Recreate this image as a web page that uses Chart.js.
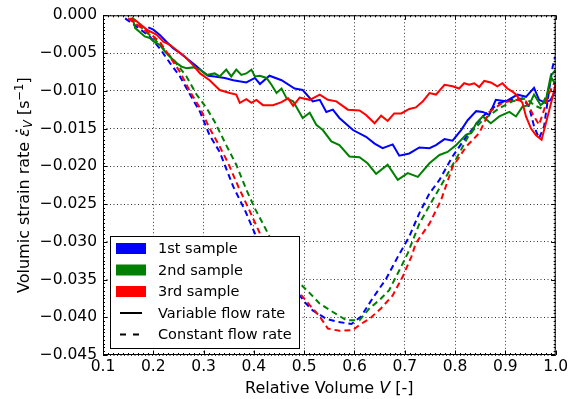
<!DOCTYPE html>
<html>
<head>
<meta charset="utf-8">
<script src="https://cdn.jsdelivr.net/npm/chart.js@4/dist/chart.umd.min.js"></script>
<style>
  html, body { margin: 0; padding: 0; background: #fff; }
  canvas { display: block; }
</style>
</head>
<body>
<canvas id="strainChart" width="571" height="399"></canvas>
<script>
// --- values: [relative volume, strain rate] ---
const blueVariable = [
  [0.190,-0.0016],[0.200,-0.0019],[0.213,-0.0026],[0.226,-0.0035],[0.240,-0.0044],
  [0.253,-0.0050],[0.266,-0.0057],[0.283,-0.0066],[0.299,-0.0075],[0.309,-0.0080],
  [0.322,-0.0081],[0.342,-0.0083],[0.359,-0.0086],[0.385,-0.0089],[0.402,-0.0083],
  [0.412,-0.0091],[0.431,-0.0080],[0.455,-0.0086],[0.481,-0.0097],[0.497,-0.0099],
  [0.517,-0.0114],[0.531,-0.0112],[0.544,-0.0128],[0.557,-0.0125],[0.570,-0.0136],
  [0.597,-0.0152],[0.623,-0.0161],[0.640,-0.0170],[0.656,-0.0176],[0.676,-0.0171],
  [0.689,-0.0186],[0.709,-0.0183],[0.729,-0.0175],[0.749,-0.0176],[0.762,-0.0172],
  [0.779,-0.0164],[0.795,-0.0166],[0.812,-0.0152],[0.825,-0.0139],[0.842,-0.0127],
  [0.855,-0.0128],[0.868,-0.0132],[0.881,-0.0112],[0.901,-0.0114],[0.924,-0.0105],
  [0.941,-0.0108],[0.957,-0.0096],[0.967,-0.0112],[0.980,-0.0116],[0.990,-0.0112],
  [1.000,-0.0099]
];
const greenVariable = [
  [0.160,-0.0006],[0.164,-0.0017],[0.173,-0.0022],[0.183,-0.0028],[0.193,-0.0030],
  [0.203,-0.0036],[0.213,-0.0039],[0.223,-0.0048],[0.233,-0.0055],[0.246,-0.0063],
  [0.256,-0.0068],[0.266,-0.0070],[0.279,-0.0069],[0.293,-0.0072],[0.306,-0.0079],
  [0.322,-0.0077],[0.332,-0.0081],[0.345,-0.0072],[0.355,-0.0081],[0.365,-0.0072],
  [0.375,-0.0079],[0.385,-0.0077],[0.395,-0.0072],[0.402,-0.0081],[0.412,-0.0080],
  [0.425,-0.0083],[0.435,-0.0092],[0.445,-0.0103],[0.455,-0.0097],[0.465,-0.0110],
  [0.478,-0.0114],[0.497,-0.0136],[0.511,-0.0129],[0.524,-0.0145],[0.537,-0.0152],
  [0.554,-0.0167],[0.570,-0.0172],[0.590,-0.0187],[0.610,-0.0188],[0.626,-0.0196],
  [0.643,-0.0210],[0.666,-0.0198],[0.686,-0.0218],[0.706,-0.0209],[0.726,-0.0214],
  [0.749,-0.0196],[0.769,-0.0185],[0.785,-0.0181],[0.802,-0.0172],[0.822,-0.0158],
  [0.832,-0.0156],[0.842,-0.0143],[0.855,-0.0134],[0.871,-0.0143],[0.888,-0.0134],
  [0.908,-0.0128],[0.921,-0.0134],[0.934,-0.0121],[0.947,-0.0119],[0.957,-0.0105],
  [0.970,-0.0119],[0.980,-0.0114],[0.990,-0.0081],[1.000,-0.0092]
];
const redVariable = [
  [0.154,-0.0004],[0.167,-0.0008],[0.187,-0.0019],[0.207,-0.0026],[0.220,-0.0035],
  [0.233,-0.0039],[0.246,-0.0046],[0.263,-0.0055],[0.279,-0.0066],[0.293,-0.0077],
  [0.312,-0.0086],[0.332,-0.0099],[0.352,-0.0103],[0.365,-0.0105],[0.372,-0.0116],
  [0.385,-0.0111],[0.395,-0.0116],[0.405,-0.0112],[0.418,-0.0119],[0.438,-0.0119],
  [0.455,-0.0115],[0.468,-0.0110],[0.478,-0.0120],[0.491,-0.0109],[0.511,-0.0112],
  [0.531,-0.0105],[0.547,-0.0112],[0.564,-0.0114],[0.587,-0.0125],[0.610,-0.0126],
  [0.623,-0.0132],[0.640,-0.0143],[0.653,-0.0133],[0.666,-0.0140],[0.679,-0.0130],
  [0.693,-0.0130],[0.709,-0.0124],[0.722,-0.0122],[0.736,-0.0114],[0.749,-0.0103],
  [0.762,-0.0105],[0.779,-0.0092],[0.795,-0.0094],[0.808,-0.0097],[0.818,-0.0090],
  [0.828,-0.0092],[0.838,-0.0090],[0.848,-0.0095],[0.858,-0.0087],[0.871,-0.0089],
  [0.884,-0.0094],[0.894,-0.0090],[0.904,-0.0097],[0.914,-0.0101],[0.921,-0.0105],
  [0.934,-0.0116],[0.941,-0.0134],[0.951,-0.0150],[0.961,-0.0159],[0.972,-0.0165],
  [0.984,-0.0134],[0.994,-0.0108],[1.000,-0.0090]
];
const blueConstant = [
  [0.144,-0.0004],[0.167,-0.0015],[0.193,-0.0028],[0.213,-0.0044],[0.233,-0.0063],
  [0.253,-0.0081],[0.273,-0.0105],[0.293,-0.0128],[0.312,-0.0159],[0.332,-0.0181],
  [0.359,-0.0227],[0.382,-0.0258],[0.402,-0.0289],[0.451,-0.0335],[0.501,-0.0380],
  [0.517,-0.0391],[0.544,-0.0402],[0.567,-0.0406],[0.594,-0.0409],[0.613,-0.0399],
  [0.636,-0.0375],[0.663,-0.0349],[0.686,-0.0320],[0.709,-0.0293],[0.729,-0.0262],
  [0.749,-0.0236],[0.769,-0.0218],[0.795,-0.0187],[0.822,-0.0161],[0.855,-0.0134],
  [0.888,-0.0116],[0.914,-0.0112],[0.934,-0.0110],[0.947,-0.0121],[0.957,-0.0147],
  [0.967,-0.0163],[0.977,-0.0147],[0.987,-0.0099],[0.994,-0.0068],[0.999,-0.0055]
];
const greenConstant = [
  [0.157,-0.0003],[0.167,-0.0008],[0.180,-0.0019],[0.200,-0.0030],[0.220,-0.0044],
  [0.240,-0.0059],[0.266,-0.0081],[0.286,-0.0105],[0.306,-0.0123],[0.322,-0.0141],
  [0.345,-0.0172],[0.365,-0.0198],[0.385,-0.0231],[0.402,-0.0256],[0.418,-0.0276],
  [0.431,-0.0293],[0.461,-0.0327],[0.491,-0.0355],[0.511,-0.0368],[0.531,-0.0382],
  [0.557,-0.0393],[0.584,-0.0404],[0.610,-0.0404],[0.630,-0.0388],[0.650,-0.0377],
  [0.669,-0.0364],[0.689,-0.0338],[0.706,-0.0315],[0.729,-0.0276],[0.755,-0.0245],
  [0.782,-0.0214],[0.808,-0.0183],[0.828,-0.0158],[0.855,-0.0139],[0.888,-0.0123],
  [0.914,-0.0114],[0.941,-0.0110],[0.957,-0.0119],[0.970,-0.0123],[0.984,-0.0103],
  [0.994,-0.0077],[1.000,-0.0072]
];
const redConstant = [
  [0.150,-0.0004],[0.173,-0.0015],[0.193,-0.0024],[0.213,-0.0035],[0.233,-0.0055],
  [0.253,-0.0075],[0.273,-0.0101],[0.293,-0.0123],[0.312,-0.0150],[0.329,-0.0170],
  [0.349,-0.0196],[0.369,-0.0227],[0.388,-0.0254],[0.412,-0.0289],[0.451,-0.0331],
  [0.491,-0.0368],[0.511,-0.0384],[0.531,-0.0399],[0.547,-0.0415],[0.570,-0.0418],
  [0.597,-0.0417],[0.610,-0.0410],[0.630,-0.0402],[0.653,-0.0388],[0.676,-0.0371],
  [0.696,-0.0346],[0.713,-0.0320],[0.722,-0.0302],[0.749,-0.0276],[0.772,-0.0245],
  [0.795,-0.0201],[0.822,-0.0174],[0.848,-0.0156],[0.868,-0.0128],[0.894,-0.0116],
  [0.921,-0.0112],[0.941,-0.0114],[0.957,-0.0134],[0.967,-0.0145],[0.977,-0.0125],
  [0.987,-0.0103],[0.997,-0.0090]
];

const xTicks = [0.1, 0.2, 0.3, 0.4, 0.5, 0.6, 0.7, 0.8, 0.9, 1.0];
const yTicks = [0.000, -0.005, -0.010, -0.015, -0.020, -0.025, -0.030, -0.035, -0.040, -0.045];
const legendSamples = ['1st sample', '2nd sample', '3rd sample'];
const legendStyles = ['Variable flow rate', 'Constant flow rate'];

const BLUE = '#0000ff', GREEN = '#008000', RED = '#ff0000';
const FONT = '"DejaVu Sans", sans-serif';
const TICK_FS = 15.5;   // tick labels
const LABEL_FS = 16;    // axis titles
const LEG_FS = 14.5;    // legend

function toPoints(pairs) {
  return pairs.map(p => ({ x: p[0], y: p[1] }));
}

function lineSet(label, pairs, color, dashed) {
  return {
    label: label,
    data: toPoints(pairs),
    borderColor: color,
    backgroundColor: color,
    borderWidth: 2,
    borderDash: dashed ? [6, 4] : [],
    pointRadius: 0,
    tension: 0,
    fill: false
  };
}

// frame, inward ticks (major + minor), axis titles and legend
const decorPlugin = {
  id: 'decor',
  afterDatasetsDraw(chart) {
    const ctx = chart.ctx;
    const a = chart.chartArea;
    const xs = chart.scales.x, ys = chart.scales.y;
    ctx.save();
    ctx.strokeStyle = '#000';
    ctx.lineWidth = 1;
    ctx.setLineDash([]);
    ctx.strokeRect(a.left + 0.5, a.top + 0.5, a.right - a.left - 1, a.bottom - a.top - 1);

    ctx.beginPath();
    for (let i = 10; i <= 100; i++) {
      const px = Math.round(xs.getPixelForValue(i / 100)) + 0.5;
      const len = i % 10 === 0 ? 4.5 : 2;
      ctx.moveTo(px, a.bottom); ctx.lineTo(px, a.bottom - len);
      ctx.moveTo(px, a.top); ctx.lineTo(px, a.top + len);
    }
    for (let i = 0; i <= 90; i++) {
      const py = Math.round(ys.getPixelForValue(-i * 0.0005)) + 0.5;
      const len = i % 10 === 0 ? 4.5 : 2;
      ctx.moveTo(a.left, py); ctx.lineTo(a.left + len, py);
      ctx.moveTo(a.right, py); ctx.lineTo(a.right - len, py);
    }
    ctx.stroke();
    ctx.restore();
  },
  afterDraw(chart) {
    const ctx = chart.ctx;
    const a = chart.chartArea;
    ctx.save();
    ctx.fillStyle = '#000';
    ctx.textBaseline = 'alphabetic';

    // x axis title: Relative Volume V [-]
    const xParts = [
      { t: 'Relative Volume ', f: LABEL_FS + 'px ' + FONT },
      { t: 'V', f: 'italic ' + LABEL_FS + 'px ' + FONT },
      { t: ' [-]', f: LABEL_FS + 'px ' + FONT }
    ];
    let w = 0;
    xParts.forEach(p => { ctx.font = p.f; p.w = ctx.measureText(p.t).width; w += p.w; });
    let cx = (a.left + a.right) / 2 - w / 2;
    xParts.forEach(p => { ctx.font = p.f; ctx.fillText(p.t, cx, 393); cx += p.w; });

    // y axis title: Volumic strain rate eps_V [s^-1]
    const small = (LABEL_FS * 0.72).toFixed(1) + 'px ' + FONT;
    const yParts = [
      { t: 'Volumic strain rate ', f: LABEL_FS + 'px ' + FONT, dy: 0 },
      { t: 'ε', f: 'italic ' + LABEL_FS + 'px ' + FONT, dy: 0, dot: true },
      { t: 'V', f: 'italic ' + small, dy: 3 },
      { t: ' [s', f: LABEL_FS + 'px ' + FONT, dy: 0 },
      { t: '−1', f: small, dy: -6.5 },
      { t: ']', f: LABEL_FS + 'px ' + FONT, dy: 0 }
    ];
    w = 0;
    yParts.forEach(p => { ctx.font = p.f; p.w = ctx.measureText(p.t).width; w += p.w; });
    ctx.translate(29, (a.top + a.bottom) / 2);
    ctx.rotate(-Math.PI / 2);
    cx = -w / 2;
    yParts.forEach(p => {
      ctx.font = p.f;
      ctx.fillText(p.t, cx, p.dy);
      if (p.dot) {
        ctx.beginPath();
        ctx.arc(cx + p.w / 2 + 1.5, -12.5, 1.1, 0, Math.PI * 2);
        ctx.fill();
      }
      cx += p.w;
    });
    ctx.restore();

    // legend box
    ctx.save();
    const bx = 110.5, by = 236.5, bw = 189, bh = 112;
    ctx.fillStyle = '#fff';
    ctx.fillRect(bx, by, bw, bh);
    ctx.strokeStyle = '#000';
    ctx.lineWidth = 1;
    ctx.strokeRect(bx, by, bw, bh);
    const rowY = [248.5, 270, 291.5, 313, 334.5];
    const colors = [BLUE, GREEN, RED];
    ctx.font = LEG_FS + 'px ' + FONT;
    ctx.textBaseline = 'middle';
    legendSamples.forEach((txt, i) => {
      ctx.fillStyle = colors[i];
      ctx.fillRect(116, rowY[i] - 5.5, 30, 11);
      ctx.fillStyle = '#000';
      ctx.fillText(txt, 158, rowY[i] + 1);
    });
    legendStyles.forEach((txt, j) => {
      const y = rowY[3 + j];
      ctx.strokeStyle = '#000';
      ctx.lineWidth = 2;
      ctx.setLineDash(j === 0 ? [] : [6, 7]);
      ctx.beginPath();
      ctx.moveTo(120, y); ctx.lineTo(142, y);
      ctx.stroke();
      ctx.setLineDash([]);
      ctx.fillStyle = '#000';
      ctx.fillText(txt, 158, y + 1);
    });
    ctx.restore();
  }
};

const chart = new Chart(document.getElementById('strainChart').getContext('2d'), {
  type: 'line',
  data: {
    datasets: [
      lineSet('3rd sample constant', redConstant, RED, true),
      lineSet('3rd sample variable', redVariable, RED, false),
      lineSet('2nd sample constant', greenConstant, GREEN, true),
      lineSet('2nd sample variable', greenVariable, GREEN, false),
      lineSet('1st sample constant', blueConstant, BLUE, true),
      lineSet('1st sample variable', blueVariable, BLUE, false)
    ]
  },
  options: {
    responsive: false,
    animation: false,
    devicePixelRatio: 1,
    layout: { padding: { top: 15, right: 14, left: 0, bottom: 0 } },
    plugins: { legend: { display: false }, tooltip: { enabled: false } },
    scales: {
      x: {
        type: 'linear',
        min: 0.1,
        max: 1.0,
        afterFit(scale) { scale.height = 44; },
        afterBuildTicks(scale) { scale.ticks = xTicks.map(v => ({ value: v })); },
        ticks: {
          padding: 3,
          color: '#000',
          font: { family: FONT, size: TICK_FS },
          maxRotation: 0,
          callback: v => Number(v).toFixed(1)
        },
        grid: { color: 'rgba(0,0,0,0.8)', lineWidth: 1, drawTicks: false },
        border: { display: false, dash: [1, 2.5] }
      },
      y: {
        type: 'linear',
        min: -0.045,
        max: 0,
        afterFit(scale) { scale.width = 103; },
        afterBuildTicks(scale) { scale.ticks = yTicks.map(v => ({ value: v })); },
        ticks: {
          padding: 6,
          color: '#000',
          font: { family: FONT, size: TICK_FS },
          callback: v => Number(v).toFixed(3).replace('-', '−')
        },
        grid: { color: 'rgba(0,0,0,0.8)', lineWidth: 1, drawTicks: false },
        border: { display: false, dash: [1, 2.5] }
      }
    }
  },
  plugins: [decorPlugin]
});
</script>
</body>
</html>
